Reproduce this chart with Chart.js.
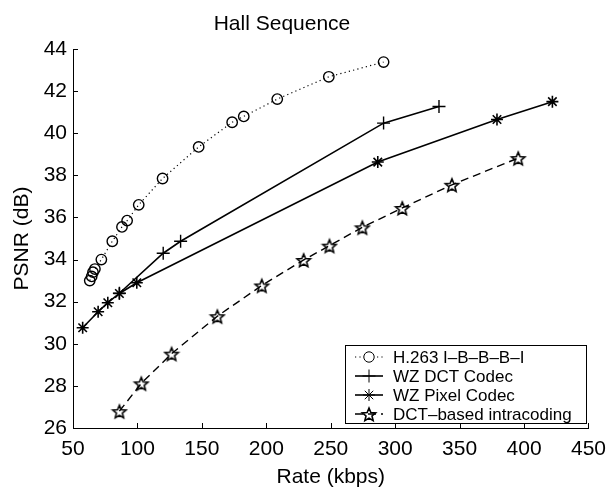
<!DOCTYPE html>
<html>
<head>
<meta charset="utf-8">
<script src="https://cdn.jsdelivr.net/npm/chart.js@4.4.0/dist/chart.umd.min.js"></script>
<style>
  html, body { margin: 0; padding: 0; background: #fff; }
  #wrap { width: 615px; height: 488px; }
</style>
</head>
<body>
<div id="wrap"><canvas id="chartHall" width="615" height="488"></canvas></div>
<script>
// Hall Sequence - PSNR x Rate
const titulo = 'Hall Sequence';
const xTicks = [50, 100, 150, 200, 250, 300, 350, 400, 450];
const yTicks = [26, 28, 30, 32, 34, 36, 38, 40, 42, 44];

const nomes = ['H.263 I\u2013B\u2013B\u2013B\u2013I', 'WZ DCT Codec', 'WZ Pixel Codec', 'DCT\u2013based intracoding'];

const h263Rate = [63, 64.5, 65.5, 67, 72, 80.5, 88, 92, 101, 119.5, 147.5, 173.5, 182.5, 208.5, 248.5, 291];
const h263Psnr = [33.0, 33.2, 33.4, 33.55, 34.0, 34.87, 35.55, 35.85, 36.6, 37.85, 39.35, 40.52, 40.8, 41.62, 42.68, 43.38];

const wzDctRate = [86, 120, 133.5, 291, 334];
const wzDctPsnr = [32.4, 34.3, 34.87, 40.48, 41.27];

const wzPixRate = [57.5, 69.5, 77, 86, 99.5, 286.5, 379, 422];
const wzPixPsnr = [30.76, 31.52, 31.95, 32.39, 32.9, 38.63, 40.65, 41.5];

const intraRate = [86, 103, 126.5, 162, 196.5, 229, 249, 274.5, 305.5, 344, 395.5];
const intraPsnr = [26.8, 28.12, 29.53, 31.31, 32.77, 33.98, 34.66, 35.53, 36.45, 37.55, 38.82];

const fonte = '"Liberation Sans", Arial, Helvetica, sans-serif';

// pentagrama vazado (marcador 'p' do matlab)
function criaPentagrama(r) {
    const c = document.createElement('canvas');
    const s = Math.ceil(r * 2 + 4);
    c.width = s; c.height = s;
    const g = c.getContext('2d');
    const cx = s / 2, cy = s / 2 + 1;
    g.beginPath();
    for (let i = 0; i < 10; i++) {
        const ang = -Math.PI / 2 + i * Math.PI / 5;
        const rr = (i % 2 === 0) ? r : r * 0.45;
        const px = cx + rr * Math.cos(ang), py = cy + rr * Math.sin(ang);
        if (i === 0) g.moveTo(px, py); else g.lineTo(px, py);
    }
    g.closePath();
    g.strokeStyle = '#000';
    g.lineWidth = 1.6;
    g.lineJoin = 'miter';
    g.stroke();
    return c;
}
const pentagrama = criaPentagrama(7);

function pares(xs, ys) {
    return xs.map((x, i) => ({ x: x, y: ys[i] }));
}

const datasets = [
    {
        label: nomes[0], data: pares(h263Rate, h263Psnr),
        borderColor: '#000', borderWidth: 1.2, borderDash: [1.2, 3.2],
        pointStyle: 'circle', pointRadius: 5.2, pointBorderWidth: 1.4,
        pointBackgroundColor: 'rgba(0,0,0,0)', pointBorderColor: '#000'
    },
    {
        label: nomes[1], data: pares(wzDctRate, wzDctPsnr),
        borderColor: '#000', borderWidth: 1.6,
        pointStyle: 'cross', pointRadius: 6.5, pointBorderWidth: 1.4,
        pointBorderColor: '#000'
    },
    {
        label: nomes[2], data: pares(wzPixRate, wzPixPsnr),
        borderColor: '#000', borderWidth: 1.6,
        pointStyle: 'star', pointRadius: 6, pointBorderWidth: 1.6,
        pointBorderColor: '#000'
    },
    {
        label: nomes[3], data: pares(intraRate, intraPsnr),
        borderColor: '#000', borderWidth: 1.4, borderDash: [8, 5],
        pointStyle: pentagrama, pointRadius: 7,
        pointBorderColor: '#000'
    }
];
datasets.forEach(d => { d.fill = false; d.tension = 0; d.clip = false; d.showLine = true; });

// marcas de escala para dentro + titulo + legenda
const extras = {
    id: 'extras',
    afterDraw(chart) {
        const ctx = chart.ctx;
        const area = chart.chartArea;
        const sx = chart.scales.x, sy = chart.scales.y;
        ctx.save();
        ctx.strokeStyle = '#000';
        ctx.lineWidth = 1;
        ctx.beginPath();
        yTicks.forEach(v => {
            const p = Math.round(sy.getPixelForValue(v)) + 0.5;
            ctx.moveTo(area.left, p); ctx.lineTo(area.left + 5, p);
        });
        xTicks.forEach(v => {
            const p = Math.round(sx.getPixelForValue(v)) + 0.5;
            ctx.moveTo(p, area.bottom); ctx.lineTo(p, area.bottom - 5);
        });
        ctx.stroke();

        // titulo
        ctx.fillStyle = '#000';
        ctx.font = '21px ' + fonte;
        ctx.textAlign = 'center';
        ctx.textBaseline = 'middle';
        ctx.fillText(titulo, 282, 24);

        // legenda
        const bx = 345.5, by = 345.5, bw = 241, bh = 78;
        ctx.fillStyle = '#fff';
        ctx.fillRect(bx, by, bw, bh);
        ctx.strokeRect(bx, by, bw, bh);
        ctx.font = '17px ' + fonte;
        ctx.textAlign = 'left';
        chart.data.datasets.forEach((d, i) => {
            const yy = 357 + i * 19;
            ctx.save();
            ctx.strokeStyle = '#000';
            ctx.lineWidth = d.borderWidth;
            ctx.setLineDash(d.borderDash || []);
            ctx.beginPath();
            ctx.moveTo(355, yy); ctx.lineTo(383, yy);
            ctx.stroke();
            ctx.restore();
            Chart.helpers.drawPoint(ctx, {
                pointStyle: d.pointStyle, radius: d.pointRadius,
                borderWidth: d.pointBorderWidth || 1, rotation: 0
            }, 369, yy);
            ctx.fillStyle = '#000';
            ctx.fillText(d.label, 393, yy + 1);
        });
        ctx.restore();
    }
};

new Chart(document.getElementById('chartHall'), {
    type: 'line',
    data: { datasets: datasets },
    plugins: [extras],
    options: {
        responsive: false,
        animation: false,
        layout: { padding: { top: 49, right: 22, left: 0, bottom: 0 } },
        plugins: {
            legend: { display: false },
            title: { display: false },
            tooltip: { enabled: false }
        },
        scales: {
            x: {
                type: 'linear', min: 50, max: 450,
                afterFit: s => { s.height = 60; },
                afterBuildTicks: s => { s.ticks = xTicks.map(v => ({ value: v })); },
                grid: { drawOnChartArea: false, drawTicks: false },
                border: { display: true, color: '#000', width: 1 },
                ticks: { color: '#000', padding: 9, maxRotation: 0, font: { family: fonte, size: 21 } },
                title: {
                    display: true, text: 'Rate (kbps)', color: '#000',
                    font: { family: fonte, size: 21, lineHeight: 1.0 }, padding: 0
                }
            },
            y: {
                type: 'linear', min: 26, max: 44,
                afterFit: s => { s.width = 73; },
                afterBuildTicks: s => { s.ticks = yTicks.map(v => ({ value: v })); },
                grid: { drawOnChartArea: false, drawTicks: false },
                border: { display: true, color: '#000', width: 1 },
                ticks: { color: '#000', padding: 6, font: { family: fonte, size: 21 } },
                title: {
                    display: true, text: 'PSNR (dB)', color: '#000',
                    font: { family: fonte, size: 21, lineHeight: 1.0 }, padding: { top: 12 }
                }
            }
        }
    }
});
</script>
</body>
</html>
